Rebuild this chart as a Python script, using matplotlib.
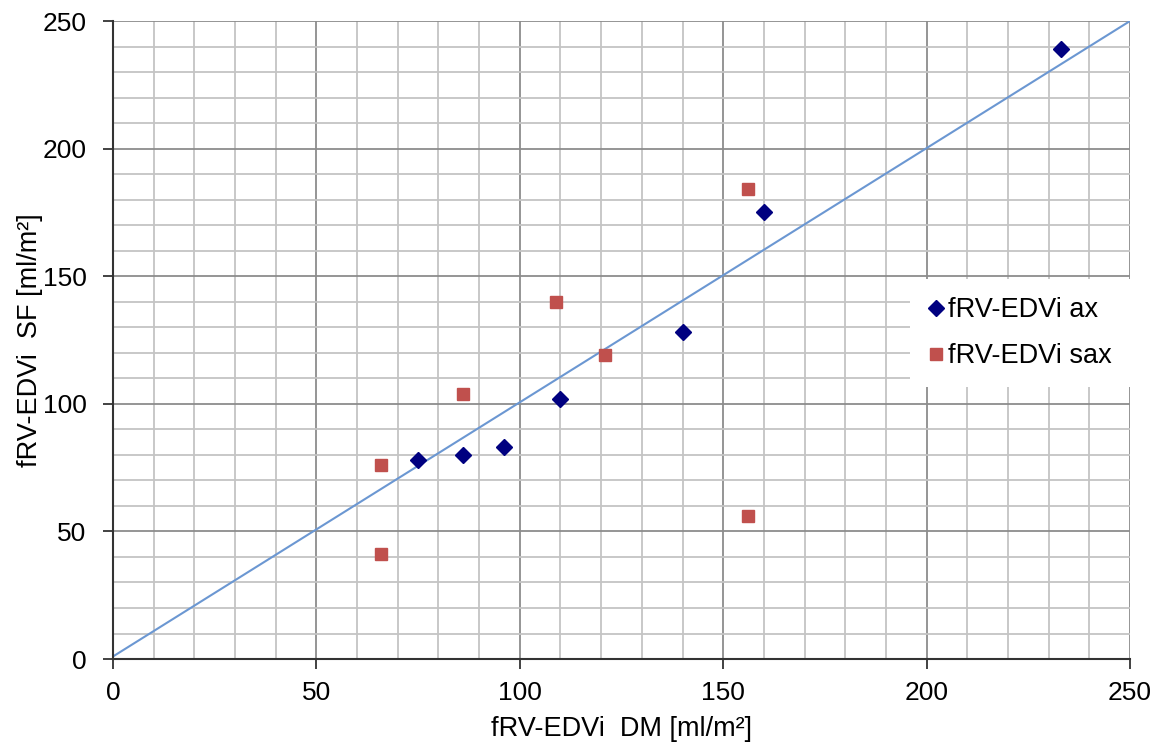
import numpy as np
import matplotlib.pyplot as plt
from matplotlib.ticker import MultipleLocator

plt.rcParams['font.family'] = ['Liberation Sans', 'DejaVu Sans']

# fRV-EDVi ax (DM vs SF)
ax_dm = [75, 86, 96, 110, 140, 160, 233]
ax_sf = [78, 80, 83, 102, 128, 175, 239]

# fRV-EDVi sax (DM vs SF)
sax_dm = [66, 66, 86, 109, 121, 156, 156]
sax_sf = [76, 41, 104, 140, 119, 184, 56]

# identity line
ident_x = [0, 250]
ident_y = [1, 250]

fig = plt.figure(figsize=(11.59, 7.45), dpi=100)
ax = fig.add_axes([0.0975, 0.1154, 0.8775, 0.8564])

ax.set_xlim(0, 250)
ax.set_ylim(0, 250)
ax.xaxis.set_major_locator(MultipleLocator(50))
ax.yaxis.set_major_locator(MultipleLocator(50))
ax.xaxis.set_minor_locator(MultipleLocator(10))
ax.yaxis.set_minor_locator(MultipleLocator(10))
ax.grid(which="minor", color="#c4c4c4", linewidth=1.3, zorder=0)
ax.grid(which="major", color="#8c8c8c", linewidth=1.3, zorder=0)
ax.set_axisbelow(True)

for side in ("top", "right"):
    ax.spines[side].set_visible(False)
for side in ("left", "bottom"):
    ax.spines[side].set_color("#333333")
    ax.spines[side].set_linewidth(1.5)

ax.tick_params(which="major", direction="out", length=7, width=1.3,
               color="#333333", labelsize=19, pad=9)
ax.tick_params(axis="y", which="major", pad=12)
ax.tick_params(which="minor", length=0)

ax.plot(ident_x, ident_y, color="#6b97d2", linewidth=1.5, zorder=2)
ax.plot(ax_dm, ax_sf, linestyle="none", marker="D", markersize=8.5,
        color="#000080", label="fRV-EDVi ax", zorder=3)
ax.plot(sax_dm, sax_sf, linestyle="none", marker="s", markersize=8.5,
        color="#c0504d", label="fRV-EDVi sax", zorder=3)

ax.set_xlabel("fRV-EDVi  DM [ml/m²]", fontsize=19.5, labelpad=8)
ax.set_ylabel("fRV-EDVi  SF [ml/m²]", fontsize=19.5, labelpad=0)

leg = ax.legend(loc="upper left", bbox_to_anchor=(0.784, 0.595), fontsize=19.5,
                frameon=True, fancybox=False, edgecolor="none",
                facecolor="white", framealpha=1.0, handlelength=0.6,
                handletextpad=0.15, labelspacing=0.75, borderpad=0.65,
                borderaxespad=0)

fig.savefig("out.png", dpi=100)
